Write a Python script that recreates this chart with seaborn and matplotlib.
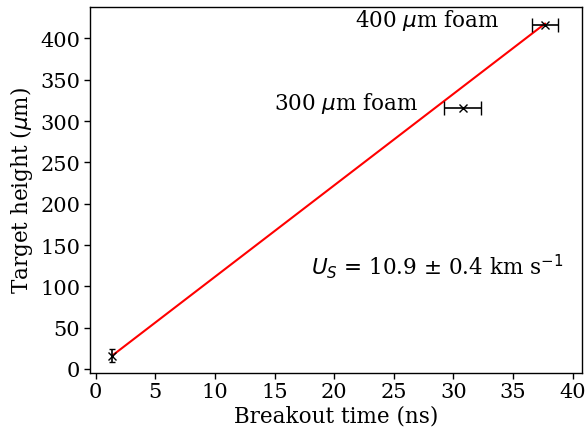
import numpy as np
import pandas as pd
import seaborn as sns
import matplotlib.pyplot as plt

# breakout data
breakout_time = [1.37, 30.8, 37.7]
target_height = [16, 316, 416]
time_err = [0.0, 1.55, 1.1]
height_err = [8, 0, 0]
labels = ["", "300 $\\mu$m foam", "400 $\\mu$m foam"]

# linear fit from the breakout points
fit_time = [1.37, 37.7]
fit_height = [16, 418]

sns.set_theme(style="ticks", context="notebook")
plt.rcParams["font.family"] = ["DejaVu Serif"]
plt.rcParams["text.color"] = "black"
plt.rcParams["axes.labelcolor"] = "black"
plt.rcParams["xtick.color"] = "black"
plt.rcParams["ytick.color"] = "black"

fig = plt.figure(figsize=(5.85, 4.31), dpi=100)
ax = fig.add_axes([0.1538, 0.133, 0.8406, 0.8484])

fit_df = pd.DataFrame({"t": fit_time, "h": fit_height})
sns.lineplot(data=fit_df, x="t", y="h", color="red", linewidth=1.5, ax=ax)

# first point has only a height error, foam points only a time error
ax.errorbar(breakout_time[:1], target_height[:1], yerr=height_err[:1],
            fmt="x", color="black", markersize=6, capsize=2, elinewidth=1.2)
ax.errorbar(breakout_time[1:], target_height[1:], xerr=time_err[1:],
            fmt="x", color="black", markersize=6, capsize=5, elinewidth=1.2)

ax.text(14.95, 322, labels[1], fontsize=15.5, va="center")
ax.text(21.75, 423, labels[2], fontsize=15.5, va="center")
ax.text(18.05, 124.6, "$U_S$ = 10.9 $\\pm$ 0.4 km s$^{-1}$", fontsize=15.5, va="center")

ax.set_xlim(-0.48, 40.77)
ax.set_ylim(-4.5, 438)
ax.set_xticks(np.arange(0, 41, 5))
ax.set_yticks(np.arange(0, 401, 50))
ax.tick_params(labelsize=15, length=4, width=1, color="black", pad=3)
for s in ax.spines.values():
    s.set_color("black")
    s.set_linewidth(1)
ax.set_xlabel("Breakout time (ns)", fontsize=15.5, labelpad=2)
ax.set_ylabel("Target height ($\\mu$m)", fontsize=15.5, labelpad=4)

fig.savefig("out.png", dpi=100)
